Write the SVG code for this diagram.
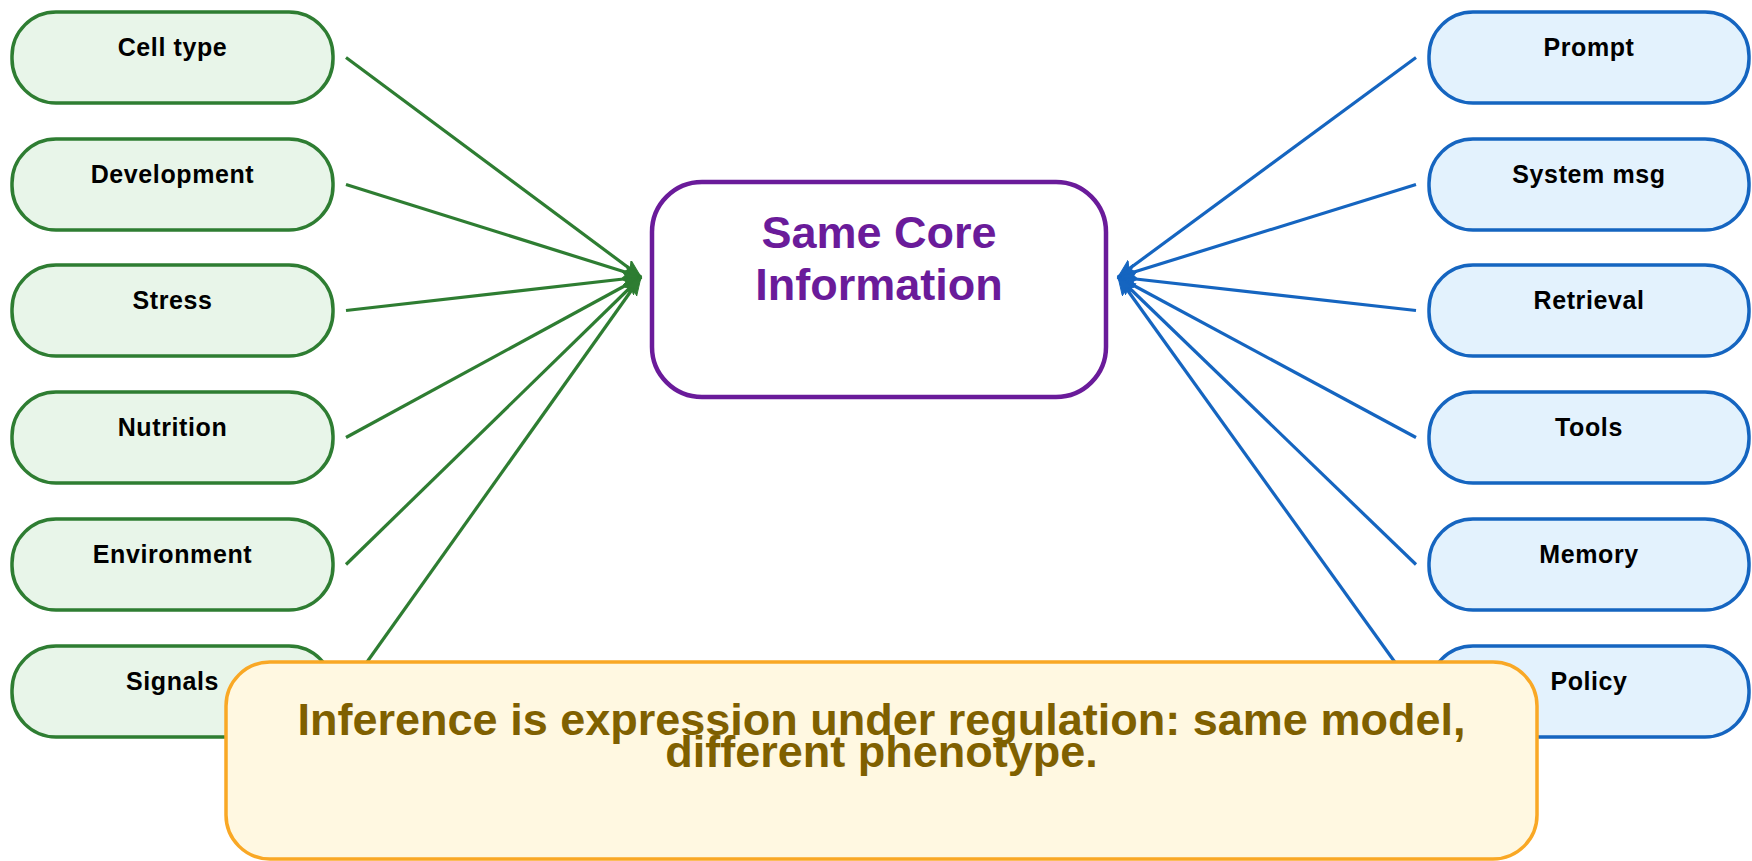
<svg xmlns="http://www.w3.org/2000/svg" width="1752" height="861" viewBox="0 0 1752 861">
<defs>
<style>
.lbl{font-family:"Liberation Sans",Arial,sans-serif;font-weight:bold;font-size:25px;letter-spacing:0.6px;fill:#000;text-anchor:middle}
.gnode{fill:#e8f5e9;stroke:#2e7d32;stroke-width:3.5}
.bnode{fill:#e3f2fd;stroke:#1565c0;stroke-width:3.5}
.gl{stroke:#2e7d32;stroke-width:3.2;fill:none;marker-end:url(#ag)}
.bl{stroke:#1565c0;stroke-width:3.2;fill:none;marker-end:url(#ab)}
.title{font-family:"Liberation Sans",Arial,sans-serif;font-weight:bold;font-size:45px;fill:#6a1b9a;text-anchor:middle}
.note{font-family:"Liberation Sans",Arial,sans-serif;font-weight:bold;font-size:45px;fill:#7f6000;text-anchor:middle}
</style>
<marker id="ag" markerUnits="userSpaceOnUse" markerWidth="20" markerHeight="16" refX="18" refY="7.5" orient="auto" viewBox="0 0 20 16">
<path d="M0,0 L18,7.5 L0,15 L4.5,7.5 z" fill="#2e7d32" stroke="#2e7d32" stroke-width="1"/>
</marker>
<marker id="ab" markerUnits="userSpaceOnUse" markerWidth="20" markerHeight="16" refX="18" refY="7.5" orient="auto" viewBox="0 0 20 16">
<path d="M0,0 L18,7.5 L0,15 L4.5,7.5 z" fill="#1565c0" stroke="#1565c0" stroke-width="1"/>
</marker>
</defs>
<rect width="1752" height="861" fill="#ffffff"/>
<g id="connectors">
<line class="gl" x1="346" y1="57.5" x2="641" y2="277"/>
<line class="gl" x1="346" y1="184.5" x2="641" y2="277"/>
<line class="gl" x1="346" y1="310.5" x2="641" y2="277"/>
<line class="gl" x1="346" y1="437.5" x2="641" y2="277"/>
<line class="gl" x1="346" y1="564.5" x2="641" y2="277"/>
<line class="gl" x1="346" y1="691.5" x2="641" y2="277"/>
<line class="bl" x1="1416" y1="57.5" x2="1118" y2="277"/>
<line class="bl" x1="1416" y1="184.5" x2="1118" y2="277"/>
<line class="bl" x1="1416" y1="310.5" x2="1118" y2="277"/>
<line class="bl" x1="1416" y1="437.5" x2="1118" y2="277"/>
<line class="bl" x1="1416" y1="564.5" x2="1118" y2="277"/>
<line class="bl" x1="1416" y1="691.5" x2="1118" y2="277"/>
</g>
<g id="celltype"><rect class="gnode" x="12" y="12" width="321" height="91" rx="44"/><text class="lbl" x="172.5" y="55.5">Cell type</text></g>
<g id="development"><rect class="gnode" x="12" y="139" width="321" height="91" rx="44"/><text class="lbl" x="172.5" y="182.5">Development</text></g>
<g id="stress"><rect class="gnode" x="12" y="265" width="321" height="91" rx="44"/><text class="lbl" x="172.5" y="308.5">Stress</text></g>
<g id="nutrition"><rect class="gnode" x="12" y="392" width="321" height="91" rx="44"/><text class="lbl" x="172.5" y="435.5">Nutrition</text></g>
<g id="environment"><rect class="gnode" x="12" y="519" width="321" height="91" rx="44"/><text class="lbl" x="172.5" y="562.5">Environment</text></g>
<g id="signals"><rect class="gnode" x="12" y="646" width="321" height="91" rx="44"/><text class="lbl" x="172.5" y="689.5">Signals</text></g>
<g id="prompt"><rect class="bnode" x="1429" y="12" width="320" height="91" rx="44"/><text class="lbl" x="1589" y="55.5">Prompt</text></g>
<g id="systemmsg"><rect class="bnode" x="1429" y="139" width="320" height="91" rx="44"/><text class="lbl" x="1589" y="182.5">System msg</text></g>
<g id="retrieval"><rect class="bnode" x="1429" y="265" width="320" height="91" rx="44"/><text class="lbl" x="1589" y="308.5">Retrieval</text></g>
<g id="tools"><rect class="bnode" x="1429" y="392" width="320" height="91" rx="44"/><text class="lbl" x="1589" y="435.5">Tools</text></g>
<g id="memory"><rect class="bnode" x="1429" y="519" width="320" height="91" rx="44"/><text class="lbl" x="1589" y="562.5">Memory</text></g>
<g id="policy"><rect class="bnode" x="1429" y="646" width="320" height="91" rx="44"/><text class="lbl" x="1589" y="689.5">Policy</text></g>
<g id="core"><rect x="652" y="182" width="454" height="215" rx="50" fill="#ffffff" stroke="#6a1b9a" stroke-width="4.5"/><text class="title" x="879" y="247.5">Same Core</text><text class="title" x="879" y="299.5">Information</text></g>
<g id="note"><rect x="226" y="662" width="1311" height="197" rx="44" fill="#fff8e1" stroke="#f9a825" stroke-width="3.5"/><text class="note" x="881.5" y="735">Inference is expression under regulation: same model,</text><text class="note" x="881.5" y="767">different phenotype.</text></g>
</svg>
